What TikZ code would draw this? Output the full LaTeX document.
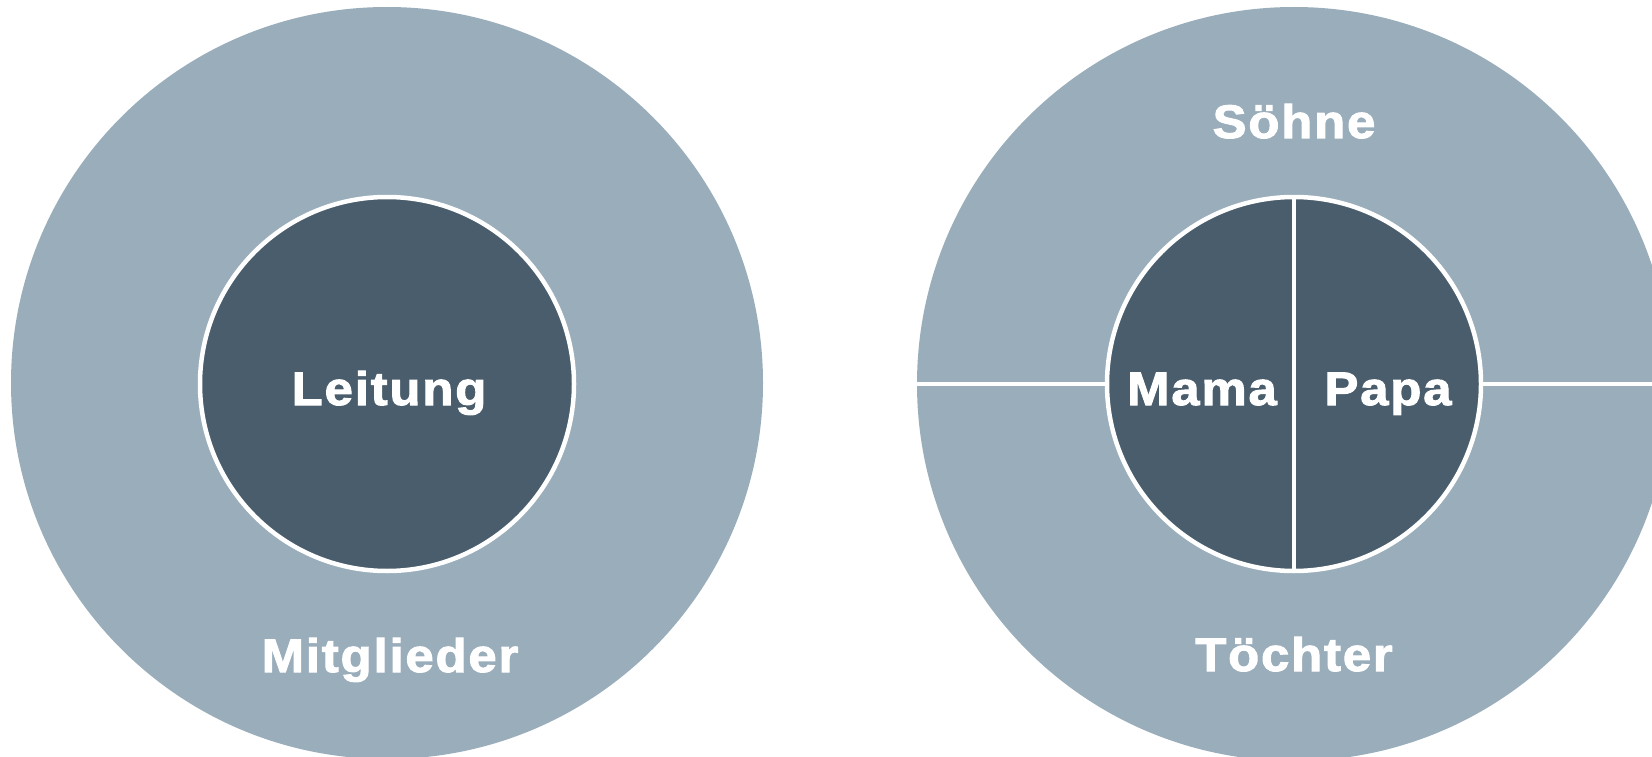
\documentclass[tikz,border=0pt]{standalone}
\usepackage{fontspec}
\newfontfamily\lblfont{Liberation Sans Bold}[LetterSpace=4,FakeStretch=1.08,FakeBold=2.2]
\definecolor{outerc}{RGB}{154,173,187}
\definecolor{innerc}{RGB}{74,93,108}
\begin{document}
\begin{tikzpicture}[x=1pt,y=-1pt]
\tikzset{
  outerdisc/.style={circle,fill=outerc,inner sep=0pt,outer sep=0pt,minimum size=#1},
  innerdisc/.style={circle,fill=innerc,draw=white,line width=4.5pt,inner sep=0pt,outer sep=0pt,minimum size=374pt},
  lbl/.style={text=white,font=\lblfont\fontsize{47}{50}\selectfont,anchor=base,inner sep=0pt},
  sepline/.style={draw=white,line width=4pt}
}
\useasboundingbox (0,0) rectangle (1652,757);
\clip (0,0) rectangle (1652,757);
% left
\node[outerdisc=752pt] (outerL) at (387,383) {};
\node[innerdisc] (innerL) at (387,384) {};
\node[lbl] (leitung) at (389,405) {Leitung};
\node[lbl] (mitglieder) at (390,672) {Mitglieder};
% right
\node[outerdisc=754pt] (outerR) at (1294,384) {};
\node[innerdisc] (innerR) at (1294,384) {};
\draw[sepline] (outerR.west) -- (innerR.west);
\draw[sepline] (innerR.east) -- (outerR.east);
\draw[sepline] (innerR.north) -- (innerR.south);
\node[lbl] (soehne) at (1294,138) {Söhne};
\node[lbl] (toechter) at (1294,671) {Töchter};
\node[lbl] (mama) at (1202,405) {Mama};
\node[lbl] (papa) at (1388,405) {Papa};
\end{tikzpicture}
\end{document}
